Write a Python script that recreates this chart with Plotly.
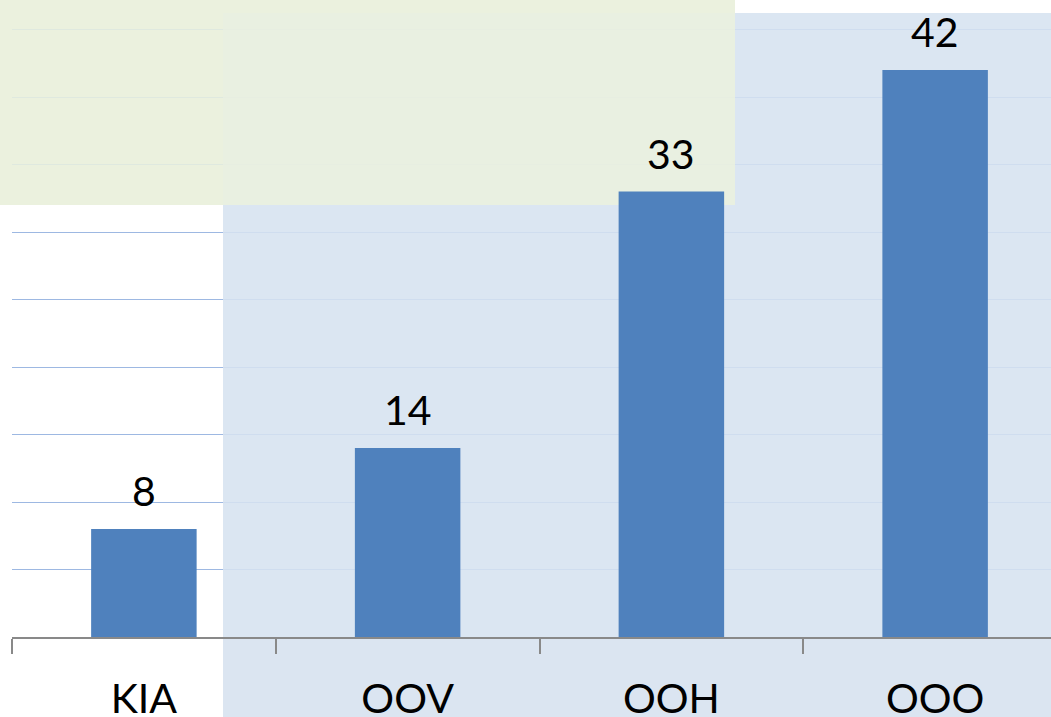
import plotly.graph_objects as go

categories = ["KIA", "OOV", "OOH", "OOO"]
values = [8, 14, 33, 42]

W, H = 1051, 717
L, T, B = 12, 0, 80
pw = W - L
ph = H - T - B
cat_px = 263.75
px_per_unit = 13.5

def px_x(p):
    return (p - L) / pw

def px_y(p):
    return (H - B - p) / ph

def dx(p):
    return -0.5 + (p - L) / cat_px

def dy(p):
    return (H - B - p) / px_per_unit

BLUE = "#DBE5F1"
GREEN = "#EBF1DE"

fig = go.Figure()
fig.add_trace(go.Bar(x=categories, y=values, marker=dict(color="#4F81BD", line=dict(width=0)),
                     hoverinfo="skip"))

for c, v in zip(categories, values):
    fig.add_annotation(x=c, y=v, text=str(v), showarrow=False, yanchor="bottom", yshift=12,
                       font=dict(family="Lato", size=41, color="black"))

# background panels (full extent, under everything)
fig.add_shape(type="rect", xref="paper", yref="paper", x0=px_x(223), x1=1.2, y0=px_y(730), y1=px_y(13),
              fillcolor=BLUE, line=dict(width=0), layer="below")
fig.add_shape(type="rect", xref="paper", yref="paper", x0=px_x(-5), x1=px_x(735), y0=px_y(205), y1=px_y(-5),
              fillcolor=GREEN, line=dict(width=0), layer="below")
# in-plot copies between gridlines and bars, to fade the gridlines
fig.add_shape(type="rect", xref="x", yref="y", x0=dx(223), x1=dx(1100), y0=0, y1=dy(13),
              fillcolor=BLUE, line=dict(width=0), layer="between", opacity=0.82)
fig.add_shape(type="rect", xref="x", yref="y", x0=dx(-5), x1=dx(735), y0=dy(205), y1=dy(-5),
              fillcolor=GREEN, line=dict(width=0), layer="between", opacity=0.85)

fig.update_layout(
    width=W, height=H,
    margin=dict(l=L, r=0, t=T, b=B, autoexpand=False),
    plot_bgcolor="rgba(0,0,0,0)", paper_bgcolor="white",
    bargap=0.6, showlegend=False,
    font=dict(family="Lato", color="black"),
    xaxis=dict(range=[-0.5, -0.5 + pw / cat_px], showline=True, linecolor="#898989", linewidth=1.5,
               ticks="outside", tickson="boundaries", ticklen=15, tickcolor="#898989", tickwidth=1.5,
               ticklabelstandoff=25, automargin=False,
               tickfont=dict(family="Lato", size=41, color="black"), showgrid=False, fixedrange=True),
    yaxis=dict(range=[0, ph / px_per_unit], dtick=5, showgrid=True, gridcolor="#9DB8E2", gridwidth=1.3,
               showticklabels=False, zeroline=False, showline=False, ticks="", fixedrange=True,
               automargin=False),
)

fig.write_html("out.html", config={"displayModeBar": False},
               post_script="document.body.style.margin='0';document.body.style.overflow='hidden';")
